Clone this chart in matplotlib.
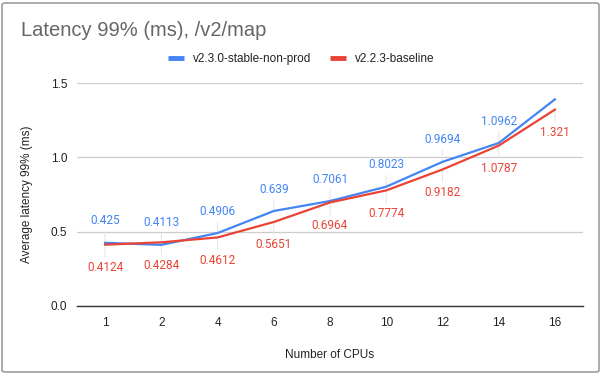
import matplotlib
matplotlib.use("Agg")
import matplotlib.pyplot as plt
from matplotlib.patches import FancyBboxPatch

categories = ["1", "2", "4", "6", "8", "10", "12", "14", "16"]
blue_name = "v2.3.0-stable-non-prod"
red_name = "v2.2.3-baseline"
blue_vals = [0.425, 0.4113, 0.4906, 0.639, 0.7061, 0.8023, 0.9694, 1.0962, 1.39]
red_vals = [0.4124, 0.4284, 0.4612, 0.5651, 0.6964, 0.7774, 0.9182, 1.0787, 1.321]
blue_labels = ["0.425", "0.4113", "0.4906", "0.639", "0.7061", "0.8023", "0.9694", "1.0962", None]
red_labels = ["0.4124", "0.4284", "0.4612", "0.5651", "0.6964", "0.7774", "0.9182", "1.0787", "1.321"]
y_ticks = [0.0, 0.5, 1.0, 1.5]

plt.rcParams['font.family'] = ['Liberation Sans', 'DejaVu Sans']
BLUE = "#4285F4"
RED = "#EA4335"
LABEL_FONT = ['Roboto', 'DejaVu Sans']

fig = plt.figure(figsize=(6.02, 3.74), dpi=100)
fig.patches.append(FancyBboxPatch((2/602, 2/374), 597/602, 369/374,
                                  boxstyle="round,pad=0,rounding_size=0.005",
                                  transform=fig.transFigure, facecolor="white",
                                  edgecolor="#9e9e9e", lw=1.2, zorder=-10))
ax = fig.add_axes([77/602, 1 - 306/374, (583 - 77)/602, (306 - 83)/374])
ax.set_facecolor("none")

x = list(range(len(categories)))
ax.plot(x, blue_vals, color=BLUE, lw=1.6, label=blue_name, zorder=4, clip_on=False)
ax.plot(x, red_vals, color=RED, lw=1.6, label=red_name, zorder=5, clip_on=False)

for xi, v, lab in zip(x, blue_vals, blue_labels):
    if lab is None:
        continue
    ax.annotate(lab, (xi, v), xytext=(0, 22), textcoords='offset pixels',
                ha='center', va='center', color=BLUE, fontsize=8.5, family=LABEL_FONT,
                arrowprops=dict(arrowstyle='-', color='#e6e6e6', lw=0.8, shrinkA=1, shrinkB=0),
                annotation_clip=False)
for xi, v, lab in zip(x, red_vals, red_labels):
    ax.annotate(lab, (xi, v), xytext=(0, -23), textcoords='offset pixels',
                ha='center', va='center', color=RED, fontsize=8.5, family=LABEL_FONT,
                arrowprops=dict(arrowstyle='-', color='#e6e6e6', lw=0.8, shrinkA=1, shrinkB=0),
                annotation_clip=False)

ax.set_xlim(-0.5, len(categories) - 0.5)
ax.set_ylim(0, 1.5)
ax.set_xticks(x)
ax.set_xticklabels(categories)
ax.set_yticks(y_ticks)
ax.set_yticklabels([f"{t:.1f}" for t in y_ticks])
ax.tick_params(axis='both', length=0, labelsize=8.5, labelcolor="#222222")
ax.tick_params(axis='x', pad=8)
ax.tick_params(axis='y', pad=7)
ax.grid(axis='y', color="#cccccc", lw=0.9)
ax.set_axisbelow(True)
for s in ["top", "right", "left"]:
    ax.spines[s].set_visible(False)
ax.spines["bottom"].set_color("#333333")
ax.spines["bottom"].set_linewidth(1.0)
ax.spines["bottom"].set_zorder(3)

ax.set_xlabel("Number of CPUs", fontsize=8.5, color="#222222", labelpad=14)
ax.set_ylabel("Average latency 99% (ms)", fontsize=8.5, color="#222222", labelpad=13)

fig.text(21/602, 1 - 30/374, "Latency 99% (ms), /v2/map", fontsize=14.5, color="#666666",
         ha='left', va='center')

leg = fig.legend(loc='center', bbox_to_anchor=(301/602, 1 - 59/374), ncol=2, frameon=False,
                 fontsize=8.5, handlelength=1.4, handletextpad=0.7, columnspacing=1.6)
for h in leg.legend_handles:
    h.set_linewidth(3.5)
    h.set_solid_capstyle('butt')
for t in leg.get_texts():
    t.set_color("#222222")

fig.savefig("out.png", dpi=100)
